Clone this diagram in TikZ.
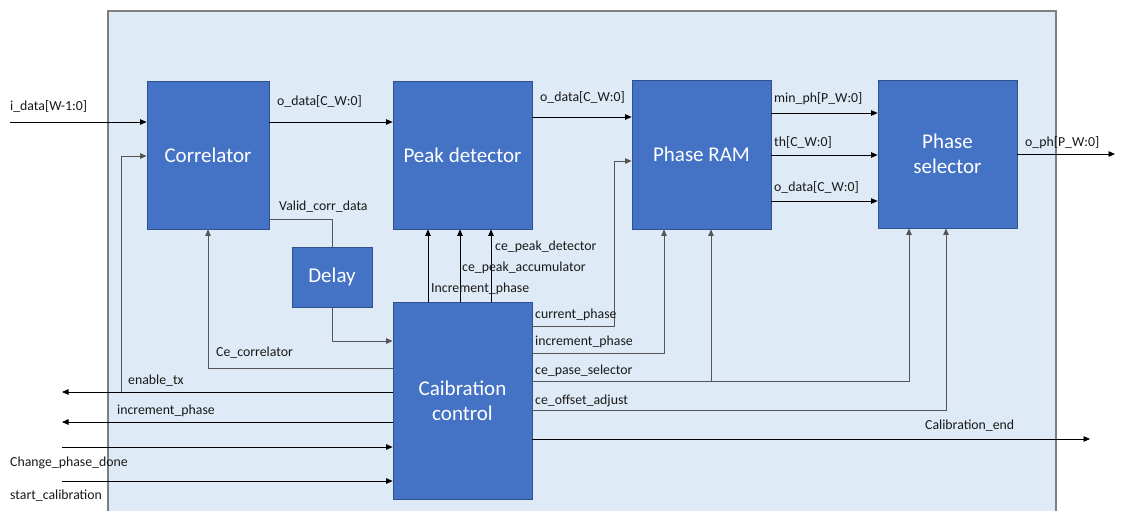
\documentclass[tikz,border=0pt]{standalone}
\usepackage{fontspec}
\setmainfont{Carlito}
\usetikzlibrary{arrows.meta}
\definecolor{blkfill}{HTML}{4472C4}
\definecolor{blkedge}{HTML}{2F528F}
\definecolor{areafill}{HTML}{DEEAF6}
\definecolor{areaedge}{HTML}{7F7F7F}
\definecolor{wiregray}{HTML}{555555}
\tikzset{
  blk/.style={draw=blkedge, line width=0.8pt, fill=blkfill, text=white,
    font=\fontsize{21}{25}\selectfont, align=center, inner sep=0pt},
  sig/.style={font=\fontsize{13.8}{16}\selectfont, anchor=west, inner sep=0pt, text=black!90},
  wire/.style={draw=black, line width=0.8pt},
  gwire/.style={draw=wiregray, line width=0.9pt},
  arr/.style={-{Triangle[length=6.5pt,width=5.5pt]}},
}
\begin{document}
\begin{tikzpicture}[x=1pt,y=-1pt]
\useasboundingbox (0,0) rectangle (1121,511);
% enclosing module
\fill[areafill] (108,11) rectangle (1056,520);
\draw[areaedge, line width=1.2pt] (108,520) -- (108,11) -- (1056,11) -- (1056,520);

% blocks
\node[blk, minimum width=122pt, minimum height=148pt] (corr)  at (208,155)   {Correlator};
\node[blk, minimum width=139pt, minimum height=148pt] (peak)  at (462.5,155) {Peak detector};
\node[blk, minimum width=139pt, minimum height=149pt] (ram)   at (701.5,154.5) {Phase RAM};
\node[blk, minimum width=139pt, minimum height=148pt] (sel)   at (947.5,154) {Phase\\selector};
\node[blk, minimum width=80pt,  minimum height=60pt]  (delay) at (332,277)   {Delay};
\node[blk, minimum width=139pt, minimum height=197pt] (cal)   at (462.5,400.5) {Caibration\\control};

% external ends
\coordinate (idata)  at (10,122);
\coordinate (entx)   at (62,392);
\coordinate (tap)    at (121,392);
\coordinate (incl)   at (62,422);
\coordinate (chg)    at (62,447);
\coordinate (start)  at (62,481);
\coordinate (calend) at (1090,439);
\coordinate (oph)    at (1115,154);
\coordinate (cpturn) at (614,161);
\coordinate (selbr)  at (711,381);

% data path
\draw[wire,arr] (idata) -- (idata -| corr.west);
\draw[wire,arr] (corr.east |- 0,122) -- (peak.west |- 0,122);
\draw[wire,arr] (peak.east |- 0,117) -- (ram.west |- 0,117);
\draw[wire,arr] (ram.east |- 0,113) -- (sel.west |- 0,113);
\draw[wire,arr] (ram.east |- 0,155) -- (sel.west |- 0,155);
\draw[wire,arr] (ram.east |- 0,201) -- (sel.west |- 0,201);
\draw[wire,arr] (sel.east |- oph) -- (oph);

% correlator side
\draw[gwire] (corr.east |- 0,219) -| (delay.north);
\draw[gwire,arr] (delay.south) |- (cal.west |- 0,341);
\draw[gwire,arr] (cal.west |- 0,368) -| (corr.south);
\draw[wire,arr] (cal.west |- entx) -- (entx);
\draw[gwire,arr] (tap) |- (corr.west |- 0,156);
\draw[wire,arr] (cal.west |- incl) -- (incl);
\draw[wire,arr] (chg) -- (chg -| cal.west);
\draw[wire,arr] (start) -- (start -| cal.west);

% enables to the peak detector
\draw[wire,arr] (cal.north -| 428,0) -- (peak.south -| 428,0);
\draw[wire,arr] (cal.north -| 460,0) -- (peak.south -| 460,0);
\draw[wire,arr] (cal.north -| 491,0) -- (peak.south -| 491,0);

% controls to RAM and selector
\draw[gwire] (cal.east |- 0,326) -| (cpturn);
\draw[gwire,arr] (cpturn) -- (ram.west |- cpturn);
\draw[gwire,arr] (cal.east |- 0,353) -| (ram.south -| 664,0);
\draw[gwire,arr] (cal.east |- selbr) -| (sel.south -| 909,0);
\draw[gwire,arr] (selbr) -- (ram.south -| selbr);
\draw[gwire,arr] (cal.east |- 0,410) -| (sel.south -| 946,0);
\draw[wire,arr] (cal.east |- calend) -- (calend);

% signal names
\node[sig] (l1)  at (10,106)  {i\_data[W-1:0]};
\node[sig] (l2)  at (277,101) {o\_data[C\_W:0]};
\node[sig] (l3)  at (279,207) {Valid\_corr\_data};
\node[sig] (l4)  at (540,97)  {o\_data[C\_W:0]};
\node[sig] (l5)  at (774,99)  {min\_ph[P\_W:0]};
\node[sig] (l6)  at (774,142) {th[C\_W:0]};
\node[sig] (l7)  at (774,187) {o\_data[C\_W:0]};
\node[sig] (l8)  at (1025,143) {o\_ph[P\_W:0]};
\node[sig] (l9)  at (495,247) {ce\_peak\_detector};
\node[sig] (l10) at (462,268) {ce\_peak\_accumulator};
\node[sig] (l11) at (431,289) {Increment\_phase};
\node[sig] (l12) at (535,315) {current\_phase};
\node[sig] (l13) at (535,342) {increment\_phase};
\node[sig] (l14) at (535,371) {ce\_pase\_selector};
\node[sig] (l15) at (535,401) {ce\_offset\_adjust};
\node[sig] (l16) at (925,426) {Calibration\_end};
\node[sig] (l17) at (216,353) {Ce\_correlator};
\node[sig] (l18) at (128,381) {enable\_tx};
\node[sig] (l19) at (117,411) {increment\_phase};
\node[sig] (l20) at (10,463)  {Change\_phase\_done};
\node[sig] (l21) at (10,496)  {start\_calibration};
\end{tikzpicture}
\end{document}
